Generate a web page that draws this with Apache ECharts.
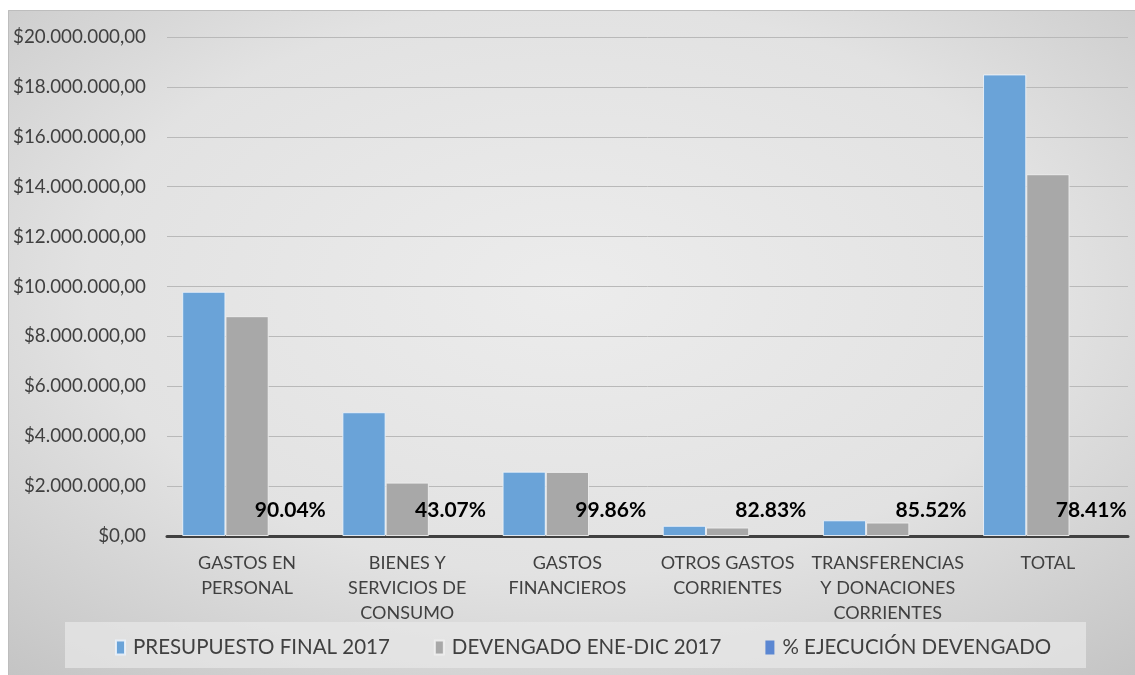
<!DOCTYPE html>
<html>
<head>
<meta charset="utf-8">
<script src="https://cdn.jsdelivr.net/npm/echarts@6/dist/echarts.min.js"></script>
<style>
  html, body { margin: 0; padding: 0; background: #ffffff; }
  #chart { width: 1135px; height: 675px; }
</style>
</head>
<body>
<div id="chart"></div>
<script>
// Budget execution 2017 by spending group
const categories = [
  'GASTOS EN\nPERSONAL',
  'BIENES Y\nSERVICIOS DE\nCONSUMO',
  'GASTOS\nFINANCIEROS',
  'OTROS GASTOS\nCORRIENTES',
  'TRANSFERENCIAS\nY DONACIONES\nCORRIENTES',
  'TOTAL'
];
const seriesNames = ['PRESUPUESTO FINAL 2017', 'DEVENGADO ENE-DIC 2017', '% EJECUCIÓN DEVENGADO'];
const presupuesto = [9790000, 4960000, 2580000, 410000, 630000, 18500000];
const devengado = [8810000, 2140000, 2570000, 340000, 540000, 14500000];
const ejecucion = [0.9004, 0.4307, 0.9986, 0.8283, 0.8552, 0.7841];
const yTicks = { min: 0, max: 20000000, interval: 2000000 };

const FONT = 'Lato, "Liberation Sans", sans-serif';
const TEXT = '#404040';

function money(v) {
  const s = Math.round(v).toString().replace(/\B(?=(\d{3})+(?!\d))/g, '.');
  return '$' + s + ',00';
}

const chart = echarts.init(document.getElementById('chart'), null, { renderer: 'canvas' });

const W = 1127, H = 665;
chart.setOption({
  animation: false,
  textStyle: { fontFamily: FONT },
  graphic: [
    {
      type: 'rect', z: -20, x: 8, y: 10, scaleX: W / H,
      shape: { x: 0, y: 0, width: H, height: H },
      style: {
        fill: {
          type: 'radial', x: 0.5, y: 0.42, r: 0.78,
          colorStops: [
            { offset: 0, color: '#ececec' },
            { offset: 0.55, color: '#e2e2e2' },
            { offset: 1, color: '#c3c3c3' }
          ]
        }
      },
      silent: true
    },
    {
      type: 'rect', z: -19, x: 8, y: 10,
      shape: { x: 0.5, y: 0.5, width: W, height: H },
      style: { fill: 'none', stroke: '#bdbdbd', lineWidth: 1 },
      silent: true
    },
    {
      type: 'rect', z: -18, x: 65, y: 622,
      shape: { x: 0, y: 0, width: 1021, height: 46 },
      style: { fill: 'rgba(232,232,232,0.7)' },
      silent: true
    }
  ],
  grid: { left: 167, right: 7, top: 37, bottom: 139, containLabel: false },
  legend: {
    left: 110, top: 632,
    itemWidth: 9, itemHeight: 14, itemGap: 44,
    icon: 'rect',
    textStyle: { color: TEXT, fontSize: 20.5, fontFamily: FONT, padding: [0, 0, 0, 3] },
    data: seriesNames
  },
  xAxis: {
    type: 'category',
    data: categories,
    axisLine: { show: true, lineStyle: { color: '#404040', width: 3 } },
    axisTick: { show: false },
    axisLabel: {
      color: TEXT, fontSize: 18, lineHeight: 25, margin: 15, interval: 0,
      fontFamily: FONT, align: 'center'
    }
  },
  yAxis: {
    type: 'value',
    min: yTicks.min, max: yTicks.max, interval: yTicks.interval,
    axisLine: { show: false },
    axisTick: { show: false },
    splitLine: { lineStyle: { color: '#b9b9b9', width: 1 } },
    axisLabel: { color: TEXT, fontSize: 18.8, margin: 21, fontFamily: FONT, formatter: money }
  },
  series: [
    {
      name: seriesNames[0], type: 'bar', data: presupuesto,
      barGap: '0%', barCategoryGap: '19%',
      itemStyle: { color: '#6aa3d8', borderColor: 'rgba(235,242,250,0.9)', borderWidth: 1 }
    },
    {
      name: seriesNames[1], type: 'bar', data: devengado,
      itemStyle: { color: '#a8a8a8', borderColor: 'rgba(240,240,240,0.9)', borderWidth: 1 }
    },
    {
      name: seriesNames[2], type: 'bar', data: ejecucion,
      itemStyle: { color: '#5b87d2', borderWidth: 0 },
      label: {
        show: true, position: 'top', distance: 15,
        color: '#000000', fontSize: 21, fontWeight: 'bold', fontFamily: FONT,
        formatter: p => (p.value * 100).toFixed(2) + '%'
      }
    }
  ]
});
</script>
</body>
</html>
